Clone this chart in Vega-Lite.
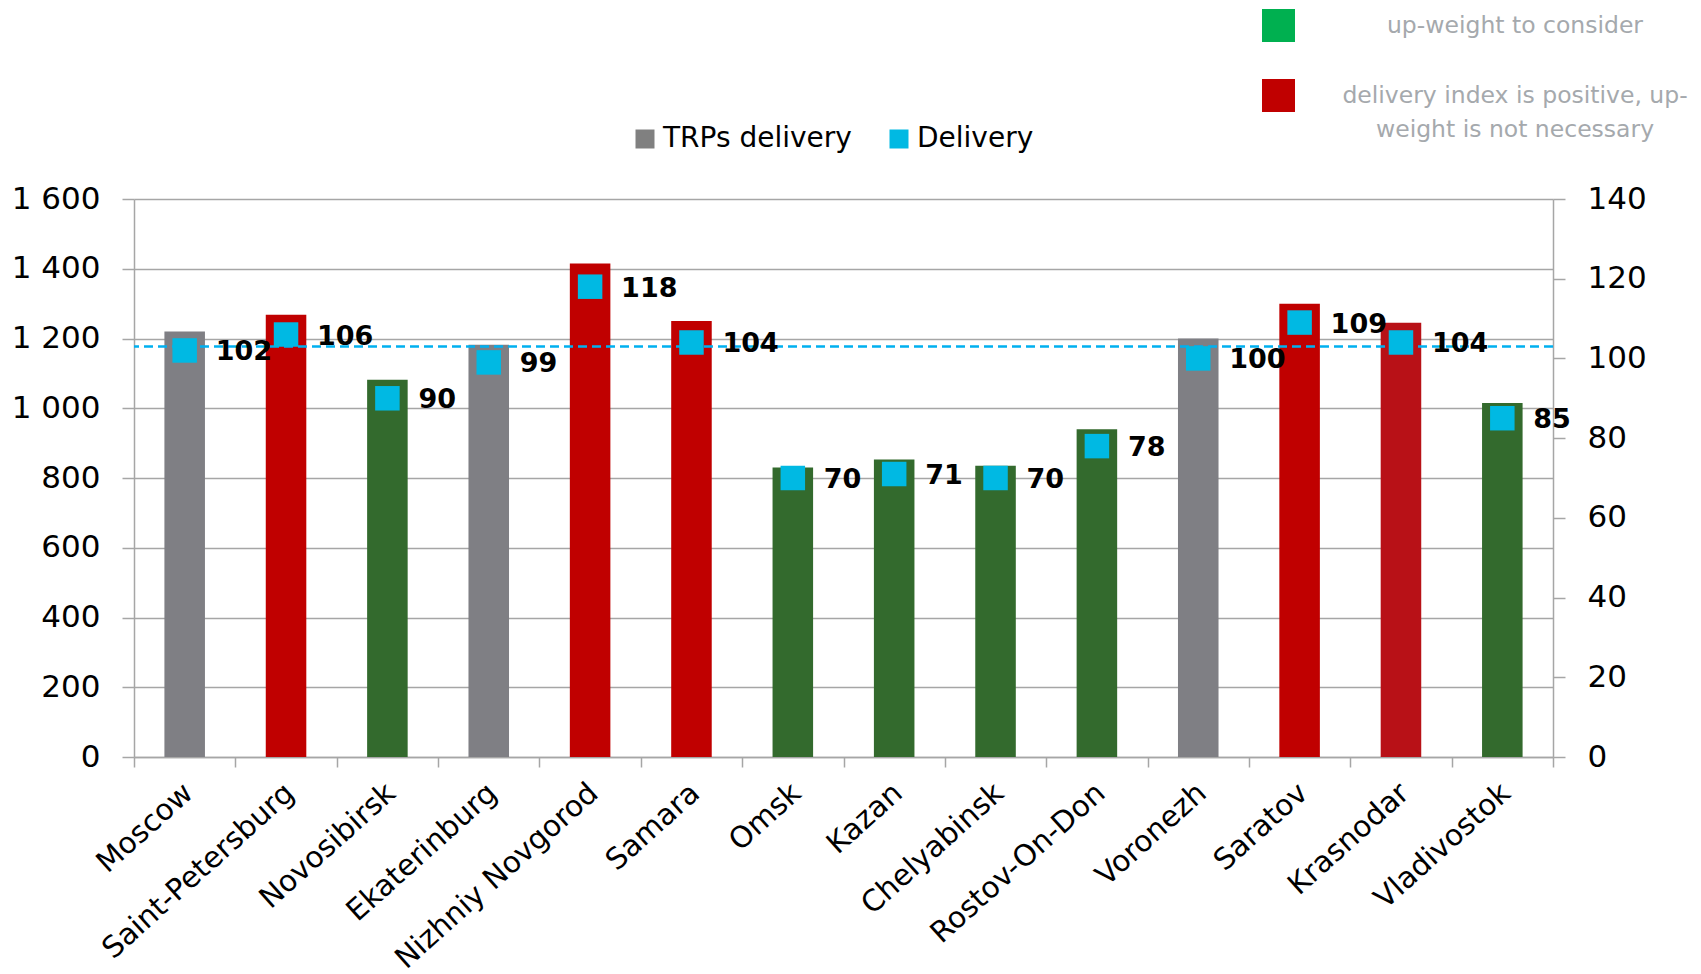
{
  "$schema": "https://vega.github.io/schema/vega-lite/v6.json",
  "width": 1419,
  "height": 558,
  "autosize": {"type": "none"},
  "padding": {"left": 134, "top": 199, "right": 148, "bottom": 217},
  "background": "white",
  "config": {
    "view": {"stroke": null},
    "font": "DejaVu Sans",
    "legend": {"padding": 0}
  },
  "datasets": {
    "cities": [
      {"city": "Moscow", "trps": 1220, "delivery": 102, "status": "neutral"},
      {"city": "Saint-Petersburg", "trps": 1268, "delivery": 106, "status": "positive"},
      {"city": "Novosibirsk", "trps": 1082, "delivery": 90, "status": "up"},
      {"city": "Ekaterinburg", "trps": 1182, "delivery": 99, "status": "neutral"},
      {"city": "Nizhniy Novgorod", "trps": 1415, "delivery": 118, "status": "positive"},
      {"city": "Samara", "trps": 1250, "delivery": 104, "status": "positive"},
      {"city": "Omsk", "trps": 830, "delivery": 70, "status": "up"},
      {"city": "Kazan", "trps": 853, "delivery": 71, "status": "up"},
      {"city": "Chelyabinsk", "trps": 835, "delivery": 70, "status": "up"},
      {"city": "Rostov-On-Don", "trps": 940, "delivery": 78, "status": "up"},
      {"city": "Voronezh", "trps": 1200, "delivery": 100, "status": "neutral"},
      {"city": "Saratov", "trps": 1300, "delivery": 109, "status": "positive"},
      {"city": "Krasnodar", "trps": 1245, "delivery": 104, "status": "positive2"},
      {"city": "Vladivostok", "trps": 1015, "delivery": 85, "status": "up"}
    ],
    "level": [{"name": "reference", "delivery": 103}],
    "statusLegend": [
      {"legend": "up-weight to consider"},
      {"legend": "delivery index is positive, up-weight is not necessary"}
    ]
  },
  "layer": [
    {
      "data": {"name": "cities"},
      "mark": {"type": "bar", "width": {"band": 0.4}},
      "encoding": {
        "x": {
          "field": "city", "type": "nominal", "sort": null,
          "scale": {"paddingInner": 0, "paddingOuter": 0},
          "axis": {
            "title": null, "labelAngle": -42, "labelAlign": "right", "labelBaseline": "top",
            "labelFontSize": 29.5, "labelFont": "DejaVu Sans", "labelColor": "black",
            "labelPadding": 11, "labelOffset": -6, "tickBand": "extent", "tickSize": 10,
            "tickColor": "#A6A6A6", "tickWidth": 1.5, "domainColor": "#A6A6A6", "domainWidth": 1.5,
            "labelOverlap": false, "labelBound": false, "labelFlush": false, "labelLimit": 500
          }
        },
        "y": {
          "field": "trps", "type": "quantitative",
          "scale": {"domain": [0, 1600], "nice": false},
          "axis": {
            "orient": "left", "title": null,
            "values": [0, 200, 400, 600, 800, 1000, 1200, 1400, 1600],
            "grid": true, "gridColor": "#A6A6A6", "gridWidth": 1.5,
            "domainColor": "#A6A6A6", "domainWidth": 1.5,
            "tickColor": "#A6A6A6", "tickWidth": 1.5, "tickSize": 12,
            "labelFontSize": 31, "labelFont": "DejaVu Sans", "labelColor": "black", "labelPadding": 22,
            "labelExpr": "replace(format(datum.value, ','), ',', ' ')"
          }
        },
        "color": {
          "field": "status", "type": "nominal",
          "scale": {"domain": ["neutral", "positive", "positive2", "up"], "range": ["#7F7F84", "#C00000", "#B81117", "#336A2D"]},
          "legend": null
        }
      }
    },
    {
      "layer": [
        {
          "data": {"name": "level"},
          "mark": {"type": "rule", "color": "#00B0F0", "strokeWidth": 2.5, "strokeDash": [9, 5]},
          "encoding": {
            "y": {"field": "delivery", "type": "quantitative"}
          }
        },
        {
          "data": {"name": "cities"},
          "mark": {"type": "square", "size": 600, "opacity": 1},
          "encoding": {
            "x": {"field": "city", "type": "nominal", "sort": null},
            "y": {
              "field": "delivery", "type": "quantitative",
              "scale": {"domain": [0, 140], "nice": false},
              "axis": {
                "orient": "right", "title": null,
                "values": [0, 20, 40, 60, 80, 100, 120, 140],
                "grid": false, "domainColor": "#A6A6A6", "domainWidth": 1.5,
                "tickColor": "#A6A6A6", "tickWidth": 1.5, "tickSize": 12,
                "labelFontSize": 31, "labelFont": "DejaVu Sans", "labelColor": "black", "labelPadding": 22
              }
            },
            "color": {
              "datum": "Delivery",
              "scale": {"domain": ["TRPs delivery", "Delivery"], "range": ["#808080", "#00B9E3"]},
              "legend": {
                "title": null, "orient": "none", "legendX": 497, "legendY": -74,
                "direction": "horizontal", "symbolType": "square", "symbolSize": 361,
                "symbolStrokeWidth": 0, "labelFontSize": 28, "labelFont": "DejaVu Sans",
                "labelColor": "black", "columnPadding": 33, "labelOffset": 4, "labelLimit": 500
              }
            }
          }
        },
        {
          "data": {"name": "cities"},
          "mark": {"type": "text", "align": "left", "baseline": "middle", "dx": 31, "dy": 2, "fontSize": 27, "fontWeight": "bold", "font": "DejaVu Sans", "color": "black"},
          "encoding": {
            "x": {"field": "city", "type": "nominal", "sort": null},
            "y": {"field": "delivery", "type": "quantitative"},
            "text": {"field": "delivery", "type": "quantitative"}
          }
        }
      ]
    },
    {
      "data": {"name": "statusLegend"},
      "transform": [{"filter": "false"}],
      "mark": {"type": "square"},
      "encoding": {
        "color": {
          "field": "legend", "type": "nominal",
          "scale": {
            "domain": ["up-weight to consider", "delivery index is positive, up-weight is not necessary"],
            "range": ["#00B050", "#C00000"]
          },
          "legend": {
            "title": null, "orient": "none", "legendX": 1128, "legendY": -190,
            "direction": "vertical", "symbolType": "square", "symbolSize": 1089,
            "symbolStrokeWidth": 0, "symbolOpacity": 1, "labelFontSize": 23.5, "labelFont": "DejaVu Sans",
            "labelColor": "#A5A9AD", "labelAlign": "center", "labelOffset": 220, "rowPadding": 37,
            "labelLimit": 600,
            "labelExpr": "datum.label == 'delivery index is positive, up-weight is not necessary' ? ['delivery index is positive, up-', 'weight is not necessary'] : datum.label",
            "encoding": {"labels": {"lineHeight": {"value": 34}}}
          }
        }
      }
    }
  ],
  "resolve": {"scale": {"y": "independent", "color": "independent"}}
}
